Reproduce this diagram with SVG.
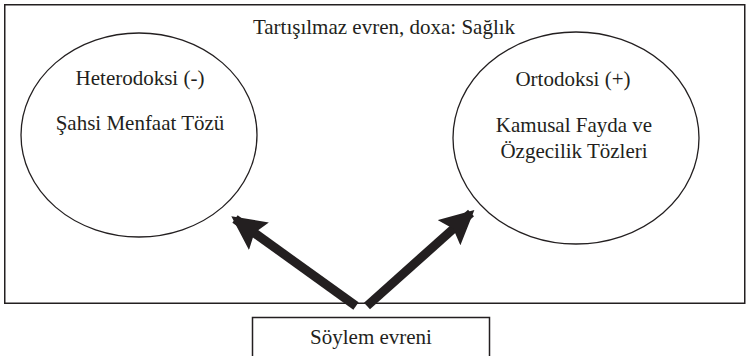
<svg xmlns="http://www.w3.org/2000/svg" width="749" height="356" viewBox="0 0 749 356">
<defs>
<style>
text{font-family:'Liberation Serif','DejaVu Serif','Times New Roman',serif;font-size:21px;fill:#231f20;text-anchor:middle}
.frame{fill:none;stroke:#231f20;stroke-width:1.5}
.node{fill:#fff;stroke:#231f20;stroke-width:1.3}
.arr{stroke:#231f20;stroke-width:9;fill:none;stroke-linecap:butt}
</style>
<marker id="ah" markerUnits="userSpaceOnUse" markerWidth="34" markerHeight="34" viewBox="0 0 30 30" refX="26" refY="15" orient="auto">
<path d="M0,0 L30,15 L0,30 L5,15 z" fill="#231f20"/>
</marker>
</defs>
<rect width="749" height="356" fill="#fff"/>
<g id="universe">
<rect class="frame" x="4.75" y="4.75" width="740" height="298.5"/>
<text x="384" y="34">Tartışılmaz evren, doxa: Sağlık</text>
</g>
<g id="heterodoksi">
<ellipse class="node" cx="139" cy="135" rx="118" ry="102"/>
<text x="140" y="85">Heterodoksi (-)</text>
<text x="140" y="130">Şahsi Menfaat Tözü</text>
</g>
<g id="ortodoksi">
<ellipse class="node" cx="576" cy="138" rx="123" ry="106"/>
<text x="573" y="86">Ortodoksi (+)</text>
<text x="574" y="132">Kamusal Fayda ve</text>
<text x="574" y="158">Özgecilik Tözleri</text>
</g>
<g id="soylem">
<rect class="frame" x="252.5" y="317.5" width="237" height="50"/>
<text x="371" y="344">Söylem evreni</text>
</g>
<g id="connectors">
<line class="arr" x1="356" y1="306" x2="235" y2="219" marker-end="url(#ah)"/>
<line class="arr" x1="367" y1="306" x2="471" y2="213" marker-end="url(#ah)"/>
</g>
</svg>
